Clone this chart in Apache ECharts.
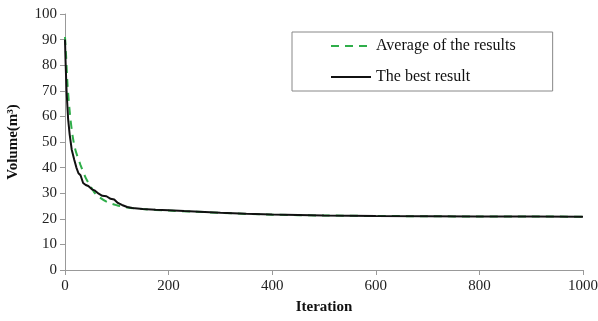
<!DOCTYPE html>
<html><head><meta charset="utf-8">
<script src="https://cdn.jsdelivr.net/npm/echarts@6/dist/echarts.min.js"></script>
<style>html,body{margin:0;padding:0;background:#fff}#c{width:598px;height:321px}</style>
</head><body><div id="c"></div>
<script>
var avgX = [0,2,5,10,15,20,30,40,50,60,80,100,120,150,200,250,300,400,500,600,700,800,900,1000];
var avgY = [91,84,72,60,52,47,41,36,32.5,29.5,26.7,25.3,24.4,23.8,23.2,22.8,22.3,21.6,21.3,21.1,21,20.9,20.9,20.8];
var bestX = [0,1,3,6,9,13,18,22,26,30,35,40,45,52,58,65,72,80,88,95,102,110,120,130,150,175,200,230,260,300,350,400,500,600,700,800,900,1000];
var bestY = [90,82,70,59,53,47,43,40,37.8,37,34,33.2,32.8,31.5,31,29.8,29,28.8,27.8,27.5,26.2,25.4,24.6,24.2,23.8,23.5,23.3,23.0,22.8,22.4,22.0,21.7,21.3,21.1,21.0,20.9,20.9,20.8];
var seriesNames = ['Average of the results','The best result'];
var xTicks = [0,200,400,600,800,1000];
var yTicks = [0,10,20,30,40,50,60,70,80,90,100];

function pairs(xs, ys){ return xs.map(function(x,i){return [x, ys[i]];}); }
var serif = 'Liberation Serif';
var chart = echarts.init(document.getElementById('c'));
chart.setOption({
  animation: false,
  grid: {left: 65, right: 15, top: 14, bottom: 51, outerBoundsMode: 'none'},
  legend: {
    orient: 'vertical', left: 292, top: 32,
    padding: [6, 37, 6, 38],
    borderColor: '#888', borderWidth: 1,
    itemWidth: 40, itemHeight: 14, itemGap: 15,
    itemStyle: {opacity: 0},
    textStyle: {fontFamily: serif, fontSize: 16, color: '#111'},
    data: seriesNames
  },
  xAxis: {
    type: 'value', min: 0, max: 1000, interval: 200,
    name: 'Iteration', nameLocation: 'middle', nameGap: 30,
    nameTextStyle: {fontFamily: serif, fontWeight: 'bold', fontSize: 15, color: '#111'},
    axisLine: {lineStyle: {color: '#999'}},
    axisTick: {show: true, length: 5, lineStyle: {color: '#999'}},
    axisLabel: {fontFamily: serif, fontSize: 15, color: '#222', margin: 9,
      formatter: function(v){ return String(v); }},
    splitLine: {show: false}
  },
  yAxis: {
    type: 'value', min: 0, max: 100, interval: 10,
    name: 'Volume(m³)', nameLocation: 'middle', nameGap: 44,
    nameTextStyle: {fontFamily: serif, fontWeight: 'bold', fontSize: 15, color: '#111'},
    axisLine: {show: true, lineStyle: {color: '#999'}},
    axisTick: {show: true, length: 5, lineStyle: {color: '#999'}},
    axisLabel: {fontFamily: serif, fontSize: 15, color: '#222', margin: 8},
    splitLine: {show: false}
  },
  series: [
    {name: seriesNames[0], type: 'line', data: pairs(avgX, avgY), symbol: 'none', smooth: 0.3,
     lineStyle: {color: '#2fae4a', width: 2, type: [8, 6]}, itemStyle: {color: '#2fae4a'}, z: 2},
    {name: seriesNames[1], type: 'line', data: pairs(bestX, bestY), symbol: 'none',
     lineStyle: {color: '#111', width: 2}, itemStyle: {color: '#111'}, z: 3}
  ]
});
</script></body></html>
